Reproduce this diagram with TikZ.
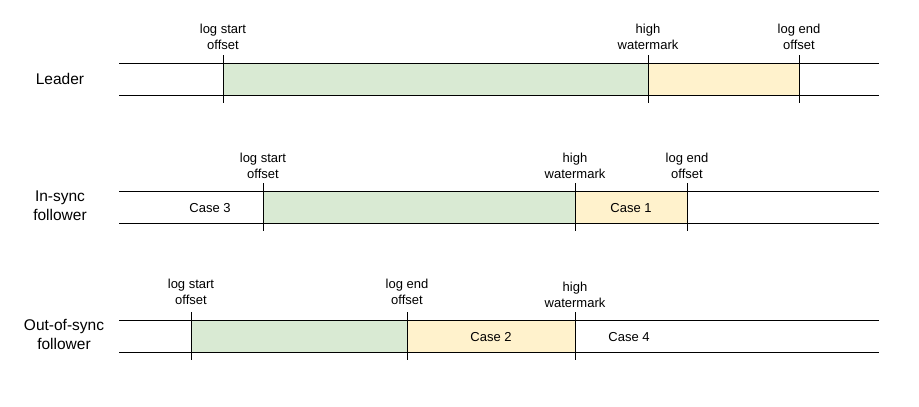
\documentclass[tikz,border=0pt]{standalone}
\usepackage{fontspec}
\setmainfont{Liberation Sans}
\definecolor{logok}{HTML}{D9EAD3}
\definecolor{logtail}{HTML}{FFF2CC}
\tikzset{
  mark label/.style={align=center, inner sep=0pt, font=\fontsize{13}{16}\selectfont},
  row label/.style={align=center, inner sep=0pt, font=\fontsize{15.5}{19}\selectfont},
  case label/.style={inner sep=0pt, font=\fontsize{13}{16}\selectfont},
  tick/.style={line width=0.8pt},
  rail/.style={line width=0.8pt}
}

\begin{document}
\begin{tikzpicture}[x=1pt, y=-1pt]
         \useasboundingbox (0,0) rectangle (919,407);
         % Leader
         \fill [logok] (223,63) rectangle (648,95);
         \fill [logtail] (648,63) rectangle (799,95);
         \coordinate (LT1) at (119,63); \coordinate (RT1) at (879,63);
         \coordinate (LB1) at (119,95); \coordinate (RB1) at (879,95);
         \draw [rail] (LT1) -- (RT1);
         \draw [rail] (LB1) -- (RB1);
         \node [row label] (R1) at (60,79) {Leader};
         \node [mark label] (LS1) at (223,37) {log start\\offset};
         \node [mark label] (HW1) at (648,37) {high\\watermark};
         \node [mark label] (LE1) at (799,37) {log end\\offset};
         \coordinate (LS1t) at (223,55); \coordinate (LS1b) at (223,103);
         \coordinate (HW1t) at (648,55); \coordinate (HW1b) at (648,103);
         \coordinate (LE1t) at (799,55); \coordinate (LE1b) at (799,103);
         \draw [tick] (LS1t) -- (LS1b);
         \draw [tick] (HW1t) -- (HW1b);
         \draw [tick] (LE1t) -- (LE1b);
         % In-sync follower
         \fill [logok] (263,191) rectangle (575,223);
         \fill [logtail] (575,191) rectangle (687,223);
         \coordinate (LT2) at (119,191); \coordinate (RT2) at (879,191);
         \coordinate (LB2) at (119,223); \coordinate (RB2) at (879,223);
         \draw [rail] (LT2) -- (RT2);
         \draw [rail] (LB2) -- (RB2);
         \node [row label] (R2) at (60,206) {In-sync\\follower};
         \node [mark label] (LS2) at (263,166) {log start\\offset};
         \node [mark label] (HW2) at (575,166) {high\\watermark};
         \node [mark label] (LE2) at (687,166) {log end\\offset};
         \coordinate (LS2t) at (263,183); \coordinate (LS2b) at (263,231);
         \coordinate (HW2t) at (575,183); \coordinate (HW2b) at (575,231);
         \coordinate (LE2t) at (687,183); \coordinate (LE2b) at (687,231);
         \draw [tick] (LS2t) -- (LS2b);
         \draw [tick] (HW2t) -- (HW2b);
         \draw [tick] (LE2t) -- (LE2b);
         \node [case label] (C3) at (210,208) {Case 3};
         \node [case label] (C1) at (631,208) {Case 1};
         % Out-of-sync follower
         \fill [logok] (191,320) rectangle (407,352);
         \fill [logtail] (407,320) rectangle (575,352);
         \coordinate (LT3) at (119,320); \coordinate (RT3) at (879,320);
         \coordinate (LB3) at (119,352); \coordinate (RB3) at (879,352);
         \draw [rail] (LT3) -- (RT3);
         \draw [rail] (LB3) -- (RB3);
         \node [row label] (R3) at (64,334) {Out-of-sync\\follower};
         \node [mark label] (LS3) at (191,292) {log start\\offset};
         \node [mark label] (LE3) at (407,292) {log end\\offset};
         \node [mark label] (HW3) at (575,295) {high\\watermark};
         \coordinate (LS3t) at (191,312); \coordinate (LS3b) at (191,360);
         \coordinate (LE3t) at (407,312); \coordinate (LE3b) at (407,360);
         \coordinate (HW3t) at (575,312); \coordinate (HW3b) at (575,360);
         \draw [tick] (LS3t) -- (LS3b);
         \draw [tick] (LE3t) -- (LE3b);
         \draw [tick] (HW3t) -- (HW3b);
         \node [case label] (C2) at (491,337) {Case 2};
         \node [case label] (C4) at (629,337) {Case 4};
\end{tikzpicture}
\end{document}
